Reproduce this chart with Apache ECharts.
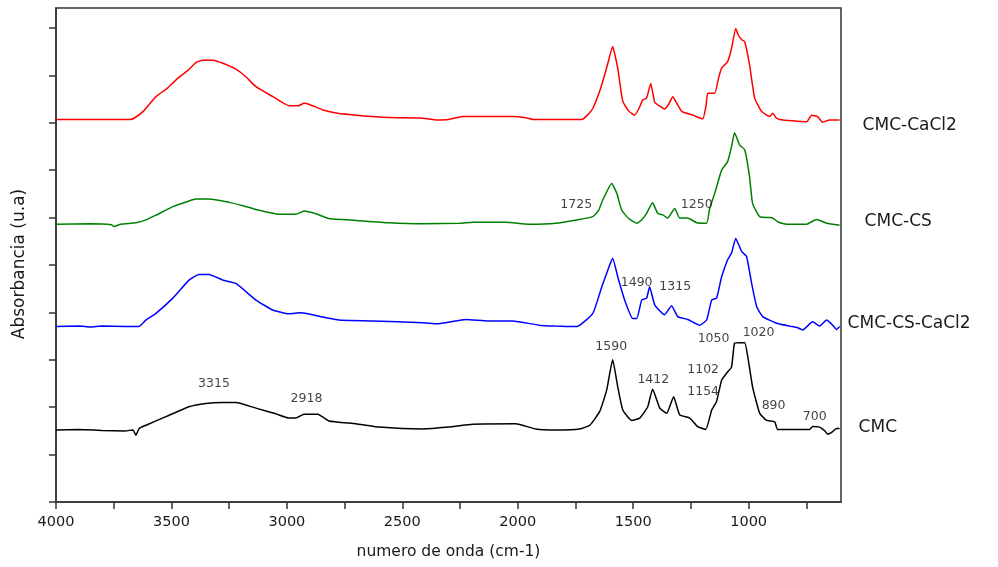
<!DOCTYPE html>
<html>
<head>
<meta charset="utf-8">
<script src="https://cdn.jsdelivr.net/npm/echarts@6/dist/echarts.min.js"></script>
<style>
  html, body { margin: 0; background: #fff; }
  #main { width: 998px; height: 567px; }
</style>
</head>
<body>
<div id="main"></div>
<script>
// wavenumber axis (cm-1), drawn reversed
var xLabels = [4000, 3500, 3000, 2500, 2000, 1500, 1000];
var xTicks = [4000, 3750, 3500, 3250, 3000, 2750, 2500, 2250, 2000, 1750, 1500, 1250, 1000, 750];
var yTicks = [0, 1, 2, 3, 4, 5, 6, 7, 8, 9, 10];

var names = ['CMC-CaCl2', 'CMC-CS', 'CMC-CS-CaCl2', 'CMC'];
var colors = ['#ff0000', '#008000', '#0000ff', '#000000'];

// [wavenumber, absorbance (offset, u.a)]
var cmcCaCl2 = [[4000,8.07],[3680,8.07],[3660,8.10],[3620,8.25],[3567,8.55],[3520,8.72],[3481,8.90],[3430,9.10],[3394,9.27],[3364,9.32],[3320,9.32],[3280,9.26],[3221,9.13],[3180,8.98],[3134,8.76],[3061,8.55],[2991,8.36],[2950,8.36],[2926,8.41],[2900,8.38],[2844,8.27],[2780,8.20],[2701,8.16],[2558,8.11],[2420,8.10],[2355,8.06],[2300,8.07],[2238,8.13],[2022,8.13],[1960,8.10],[1935,8.07],[1723,8.07],[1700,8.15],[1675,8.30],[1650,8.60],[1632,8.87],[1610,9.25],[1589,9.61],[1580,9.45],[1567,9.15],[1545,8.45],[1520,8.25],[1494,8.16],[1475,8.30],[1459,8.48],[1442,8.52],[1424,8.83],[1407,8.43],[1385,8.35],[1364,8.29],[1345,8.40],[1329,8.55],[1310,8.40],[1290,8.24],[1242,8.16],[1199,8.08],[1185,8.35],[1177,8.62],[1147,8.62],[1130,8.95],[1117,9.15],[1091,9.29],[1074,9.57],[1056,9.99],[1045,9.85],[1030,9.75],[1017,9.71],[996,9.22],[974,8.52],[944,8.24],[909,8.13],[896,8.20],[880,8.10],[866,8.07],[810,8.04],[749,8.02],[727,8.16],[701,8.13],[680,8.01],[649,8.06],[606,8.06]];

var cmcCs = [[4000,5.86],[3850,5.87],[3760,5.85],[3749,5.81],[3720,5.86],[3654,5.89],[3610,5.95],[3567,6.05],[3494,6.23],[3424,6.35],[3394,6.39],[3338,6.39],[3251,6.32],[3190,6.25],[3134,6.17],[3035,6.07],[2961,6.07],[2926,6.14],[2874,6.08],[2818,5.98],[2701,5.94],[2558,5.89],[2411,5.87],[2250,5.88],[2195,5.90],[2052,5.90],[1952,5.86],[1835,5.88],[1745,5.95],[1675,6.02],[1650,6.15],[1632,6.37],[1593,6.72],[1571,6.51],[1550,6.16],[1520,5.98],[1485,5.88],[1460,5.97],[1442,6.09],[1416,6.31],[1394,6.09],[1370,6.05],[1351,5.99],[1320,6.19],[1299,5.99],[1264,5.99],[1225,5.89],[1182,5.88],[1169,6.19],[1147,6.51],[1117,7.00],[1091,7.18],[1074,7.50],[1061,7.79],[1039,7.53],[1017,7.43],[996,6.86],[983,6.30],[952,6.02],[910,6.00],[896,5.99],[870,5.90],[836,5.86],[749,5.86],[706,5.96],[662,5.88],[606,5.84]];

var cmcCsCaCl2 = [[4000,3.70],[3900,3.71],[3850,3.69],[3800,3.71],[3700,3.70],[3641,3.70],[3610,3.84],[3567,3.98],[3494,4.30],[3424,4.68],[3381,4.80],[3338,4.80],[3277,4.68],[3221,4.61],[3134,4.26],[3061,4.05],[2991,3.97],[2939,3.99],[2844,3.90],[2775,3.84],[2628,3.82],[2411,3.78],[2342,3.76],[2225,3.85],[2126,3.82],[2022,3.82],[1909,3.73],[1835,3.71],[1745,3.70],[1675,3.98],[1636,4.54],[1610,4.89],[1589,5.14],[1567,4.75],[1537,4.26],[1502,3.87],[1485,3.87],[1463,4.26],[1442,4.30],[1429,4.54],[1407,4.16],[1364,3.95],[1334,4.14],[1307,3.91],[1264,3.85],[1212,3.73],[1182,3.84],[1160,4.26],[1139,4.30],[1117,4.75],[1091,5.11],[1074,5.25],[1056,5.56],[1030,5.28],[1009,5.18],[987,4.61],[965,4.12],[939,3.91],[879,3.77],[823,3.71],[790,3.68],[766,3.63],[723,3.80],[693,3.71],[662,3.84],[640,3.75],[619,3.64],[606,3.70]];

var cmc = [[4000,1.52],[3900,1.53],[3800,1.51],[3700,1.50],[3667,1.52],[3654,1.41],[3640,1.55],[3610,1.62],[3524,1.80],[3424,2.01],[3351,2.08],[3277,2.10],[3221,2.10],[3134,1.98],[3048,1.86],[2991,1.77],[2961,1.77],[2926,1.85],[2866,1.85],[2818,1.71],[2701,1.65],[2602,1.58],[2411,1.54],[2300,1.58],[2195,1.64],[2009,1.65],[1922,1.54],[1835,1.52],[1732,1.54],[1688,1.62],[1645,1.91],[1615,2.36],[1589,3.00],[1567,2.43],[1545,1.94],[1506,1.72],[1472,1.77],[1437,2.01],[1416,2.38],[1385,1.98],[1355,1.87],[1325,2.22],[1299,1.84],[1255,1.77],[1221,1.59],[1186,1.53],[1160,1.94],[1139,2.12],[1117,2.57],[1095,2.72],[1074,2.85],[1061,3.35],[1039,3.36],[1017,3.36],[1004,3.07],[983,2.43],[952,1.87],[922,1.72],[887,1.69],[874,1.53],[736,1.53],[723,1.59],[693,1.58],[670,1.50],[658,1.43],[640,1.47],[619,1.55],[606,1.55]];

// peak annotations: [wavenumber, y, text]
var peakLabels = [[3316,2.50,'3315'],[2915,2.17,'2918'],[1595,3.27,'1590'],[1413,2.58,'1412'],[1197,2.79,'1102'],[1197,2.32,'1154'],[1152,3.45,'1050'],[957,3.58,'1020'],[892,2.02,'890'],[714,1.79,'700'],[1747,6.28,'1725'],[1225,6.28,'1250'],[1485,4.63,'1490'],[1318,4.54,'1315']];

var spectra = [cmcCaCl2, cmcCs, cmcCsCaCl2, cmc];

var font = 'DejaVu Sans';
var chart = echarts.init(document.getElementById('main'));

// name labels to the right of each curve end
var labelOffsets = [[23, 6], [25, -4], [8, -3], [19, -1]];

var series = spectra.map(function (d, i) {
    return {
        name: names[i],
        type: 'line',
        data: d,
        showSymbol: false,
        symbol: 'none',
        smooth: 0.15,
        lineStyle: { color: colors[i], width: 1.5 },
        itemStyle: { color: colors[i] },
        endLabel: {
            show: true,
            formatter: '{a}',
            distance: 0,
            align: 'left',
            offset: labelOffsets[i],
            color: '#1a1a1a',
            fontFamily: font,
            fontSize: 17
        }
    };
});

series.push({
    type: 'scatter',
    data: peakLabels,
    symbolSize: 0,
    silent: true,
    z: 5,
    label: {
        show: true,
        position: 'inside',
        formatter: function (p) { return p.value[2]; },
        color: '#111',
        fontFamily: font,
        fontSize: 12.5
    }
});

var option = {
    animation: false,
    backgroundColor: '#fff',
    grid: {
        left: 56, right: 157, top: 8, bottom: 65,
        show: true, borderColor: '#333', borderWidth: 1.5
    },
    xAxis: {
        type: 'value',
        inverse: true,
        min: 600,
        max: 4000,
        name: 'numero de onda (cm-1)',
        nameLocation: 'middle',
        nameGap: 42,
        nameTextStyle: { color: '#1a1a1a', fontFamily: font, fontSize: 15.5 },
        axisLine: { show: true, lineStyle: { color: '#333', width: 1.5 } },
        axisTick: { show: true, customValues: xTicks, length: 7, lineStyle: { color: '#333', width: 1.5 } },
        axisLabel: {
            customValues: xLabels, margin: 13, color: '#1a1a1a', fontFamily: font, fontSize: 14.5,
            formatter: function (v) { return String(v); }
        },
        splitLine: { show: false }
    },
    yAxis: {
        type: 'value',
        min: 0,
        max: 10.42,
        axisLine: { show: true, lineStyle: { color: '#333', width: 1.5 } },
        axisTick: { show: true, customValues: yTicks, length: 7, lineStyle: { color: '#333', width: 1.5 } },
        axisLabel: { show: false },
        splitLine: { show: false }
    },
    graphic: [{
        type: 'text',
        x: 20,
        y: 264,
        rotation: Math.PI / 2,
        style: {
            text: 'Absorbancia (u.a)',
            align: 'center',
            verticalAlign: 'middle',
            fill: '#1a1a1a',
            font: '17px "DejaVu Sans"'
        }
    }],
    series: series
};

chart.setOption(option);
</script>
</body>
</html>
